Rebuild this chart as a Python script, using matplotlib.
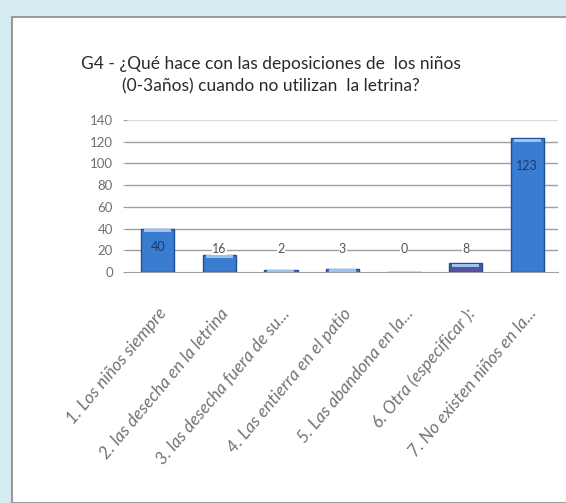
import matplotlib.pyplot as plt
from matplotlib.patches import Rectangle

# respuestas a la pregunta G4
categorias = ['1. Los niños siempre',
              '2. las desecha en la letrina',
              '3. las desecha fuera de su...',
              '4. Las entierra en el patio',
              '5. Las abandona en la...',
              '6. Otra (especificar ):',
              '7. No existen niños en la...']
valores = [40, 16, 2, 3, 0, 8, 123]
colores = ['#3a7ccf', '#3a7ccf', '#3a7ccf', '#3a7ccf', '#3a7ccf', '#57519f', '#3a7ccf']
yticks = [0, 20, 40, 60, 80, 100, 120, 140]

titulo = 'G4 - ¿Qué hace con las deposiciones de  los niños\n(0-3años) cuando no utilizan  la letrina?'

plt.rcParams['font.family'] = ['Lato', 'DejaVu Sans']

fig = plt.figure(figsize=(5.66, 5.03), dpi=100)
fig.patch.set_facecolor('#d7ebf3')

# panel blanco del grafico
panel = Rectangle((12 / 566, 0), 1.0, 1 - 17 / 503, transform=fig.transFigure,
                  facecolor='white', edgecolor='#9a9a9a', linewidth=1.5, zorder=-5)
fig.patches.append(panel)

fig.text(0.478, 1 - 75 / 503, titulo, ha='center', va='center', multialignment='center',
         fontsize=12.5, color='#2a2a2a', linespacing=1.45)

ax = fig.add_axes([127 / 566, 231 / 503, 431 / 566, 152 / 503], zorder=2)
ax.set_facecolor('none')

x = range(len(valores))
ax.bar(x, valores, width=0.54, color=colores, edgecolor='#1d4f9c', linewidth=1.0, zorder=3)
# brillo claro en la parte alta de cada barra
ax.bar(x, [min(v, 2.5) for v in valores], bottom=[max(v - 3, 0) for v in valores],
       width=0.44, color='#9cc3ee', linewidth=0, zorder=3.5)

for i, v in enumerate(valores):
    if v > 30:
        ax.text(i, v - 17 if v < 100 else v - 25, str(v), ha='center', va='center',
                fontsize=9, color='#1b3a70', zorder=4)
    else:
        ax.text(i, 21.5, str(v), ha='center', va='center', fontsize=9,
                color='#555555', zorder=4,
                bbox=dict(facecolor='white', edgecolor='none', pad=0.3))

ax.set_xlim(-0.5, 6.5)
ax.set_ylim(0, 140)
ax.set_yticks(yticks)
ax.set_yticklabels([str(t) for t in yticks], fontsize=9.5, color='#707070')
for t in yticks[1:]:
    ax.axhline(t, color='#a0a0a0' if t < 140 else '#dcdcdc', linewidth=1.0, zorder=1)

for s in ['top', 'right', 'left']:
    ax.spines[s].set_visible(False)
ax.spines['bottom'].set_color('#a0a0a0')
ax.tick_params(axis='y', length=3, color='#a0a0a0', pad=7)
ax.tick_params(axis='x', length=0, pad=24)

ax.set_xticks(list(x))
ax.set_xticklabels(categorias, rotation=50, ha='right', rotation_mode='anchor',
                   fontsize=12.5, color='#737373', fontstyle='italic')

fig.savefig('out.png', dpi=100, facecolor=fig.get_facecolor())
